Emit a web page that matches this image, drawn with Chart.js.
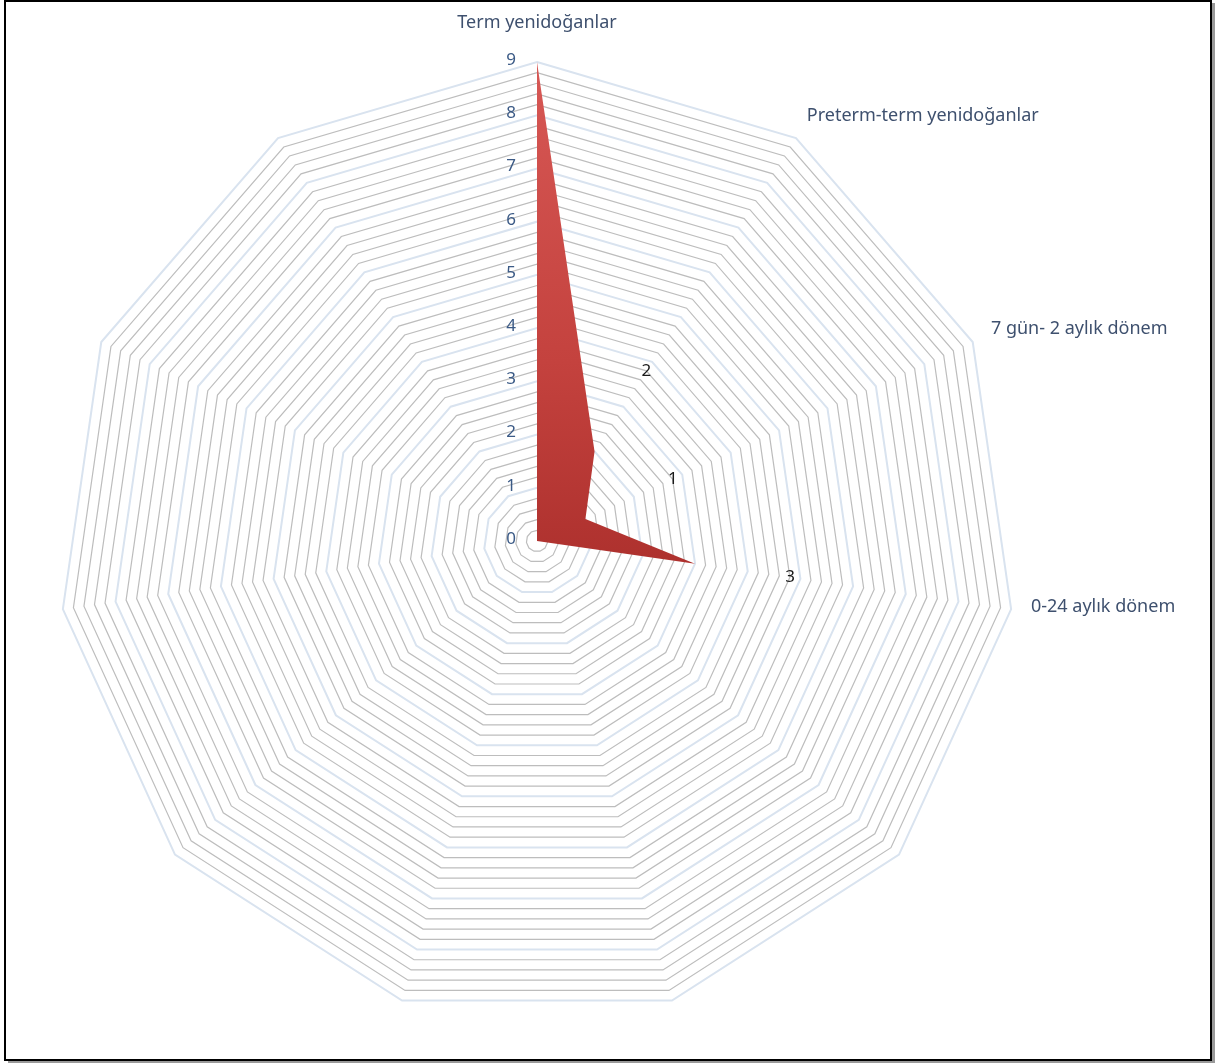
<!DOCTYPE html>
<html>
<head>
<meta charset="utf-8">
<script src="https://cdn.jsdelivr.net/npm/chart.js@4.4.0/dist/chart.umd.min.js"></script>
<style>
  html, body { margin: 0; padding: 0; background: #ffffff; }
  #wrap { position: absolute; left: 0; top: 0; width: 1216px; height: 1063px; }
  canvas { display: block; }
</style>
</head>
<body>
<div id="wrap"><canvas id="c" width="1216" height="1063"></canvas></div>
<script>
// ---- data ----
const categories = [
  'Term yenidoğanlar',
  'Preterm-term yenidoğanlar',
  '7 gün- 2 aylık dönem',
  '0-24 aylık dönem',
  '', '', '', '', '', '', ''
];
const seriesValues = [9, 2, 1, 3, 0, 0, 0, 0, 0, 0, 0];
const tickLabels = ['0', '1', '2', '3', '4', '5', '6', '7', '8', '9'];
const axisMin = 0;
const axisMax = 9;
const minorStep = 0.2;

const FONT = '"Noto Sans", "DejaVu Sans", sans-serif';

function isWhole(v) { return Math.abs(v - Math.round(v)) < 1e-6; }

const overlayPlugin = {
  id: 'overlay',
  afterDatasetsDraw(chart) {
    const s = chart.scales.r;
    const ctx = chart.ctx;
    ctx.save();
    // tick labels (integer values only), left of the vertical axis
    ctx.font = '17px ' + FONT;
    ctx.fillStyle = '#3b5a86';
    ctx.textAlign = 'right';
    ctx.textBaseline = 'middle';
    tickLabels.forEach(t => {
      const v = Number(t);
      const y = s.yCenter - s.getDistanceFromCenterForValue(v);
      ctx.fillText(t, s.xCenter - 21, y - 2);
    });
    // point labels
    ctx.font = '18px ' + FONT;
    ctx.fillStyle = '#3e506e';
    categories.forEach((lab, i) => {
      if (!lab) return;
      const p = s.getPointPosition(i, s.drawingArea + 20);
      const a = (i / categories.length) * 360;
      if (a < 1 || a > 359) {
        ctx.textAlign = 'center';
        ctx.textBaseline = 'alphabetic';
        ctx.fillText(lab, p.x, p.y - 14);
      } else {
        ctx.textAlign = a < 180 ? 'left' : 'right';
        ctx.textBaseline = 'middle';
        ctx.fillText(lab, p.x, p.y - 5);
      }
    });
    // data labels
    ctx.font = '17px ' + FONT;
    ctx.fillStyle = '#1a1a1a';
    ctx.textAlign = 'center';
    ctx.textBaseline = 'middle';
    seriesValues.forEach((v, i) => {
      if (!v) return;
      const p = s.getPointPosition(i, s.getDistanceFromCenterForValue(v) + 96);
      if (p.x < 0 || p.y < 0 || p.x > chart.width || p.y > chart.height) return;
      ctx.fillText(String(v), p.x, p.y);
    });
    ctx.restore();
  },
  afterDraw(chart) {
    const ctx = chart.ctx;
    ctx.save();
    // shadow
    ctx.fillStyle = '#9a9a9a';
    ctx.fillRect(1212, 3, 3, 1060);
    ctx.fillRect(8, 1061, 1207, 2);
    // frame
    ctx.strokeStyle = '#000000';
    ctx.lineWidth = 2;
    ctx.strokeRect(5, 1, 1206, 1059);
    ctx.restore();
  }
};

new Chart(document.getElementById('c'), {
  type: 'radar',
  data: {
    labels: categories,
    datasets: [{
      data: seriesValues,
      fill: 'origin',
      borderWidth: 0,
      pointRadius: 0,
      pointHoverRadius: 0,
      tension: 0,
      backgroundColor(context) {
        const chart = context.chart;
        const s = chart.scales.r;
        if (!s || !s.drawingArea) return '#c0403c';
        const g = chart.ctx.createLinearGradient(0, s.yCenter - s.drawingArea, 0, s.yCenter + 20);
        g.addColorStop(0, '#d75855');
        g.addColorStop(0.6, '#c4423e');
        g.addColorStop(1, '#ae312e');
        return g;
      }
    }]
  },
  options: {
    responsive: false,
    animation: false,
    devicePixelRatio: 1,
    layout: { padding: { left: 58, right: 200, top: 62, bottom: 43 } },
    plugins: { legend: { display: false }, tooltip: { enabled: false } },
    scales: {
      r: {
        min: axisMin,
        max: axisMax,
        beginAtZero: true,
        angleLines: { display: false },
        grid: {
          circular: false,
          color(ctx) { return isWhole(ctx.tick.value) ? '#d9e3ef' : '#bdbdbd'; },
          lineWidth(ctx) { return isWhole(ctx.tick.value) ? 2 : 1.2; }
        },
        ticks: { display: false, stepSize: minorStep },
        pointLabels: { display: false }
      }
    }
  },
  plugins: [overlayPlugin]
});
</script>
</body>
</html>
